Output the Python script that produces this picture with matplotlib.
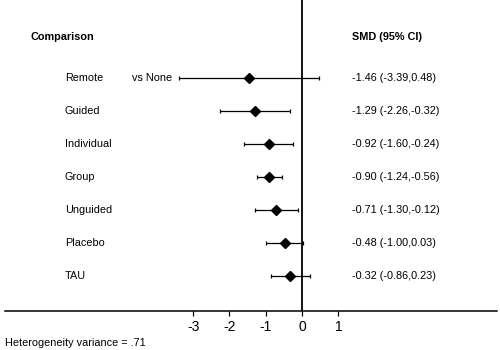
import numpy as np
import matplotlib
matplotlib.use('Agg')
import matplotlib.pyplot as plt

plt.rcParams['font.family'] = ['Liberation Sans', 'DejaVu Sans']

labels = ['Remote', 'Guided', 'Individual', 'Group', 'Unguided', 'Placebo', 'TAU']
smd = [-1.46, -1.29, -0.92, -0.90, -0.71, -0.48, -0.32]
lo = [-3.39, -2.26, -1.60, -1.24, -1.30, -1.00, -0.86]
hi = [0.48, -0.32, -0.24, -0.56, -0.12, 0.03, 0.23]
ci_txt = ['-1.46 (-3.39,0.48)', '-1.29 (-2.26,-0.32)', '-0.92 (-1.60,-0.24)',
          '-0.90 (-1.24,-0.56)', '-0.71 (-1.30,-0.12)', '-0.48 (-1.00,0.03)',
          '-0.32 (-0.86,0.23)']
ticks = [-3, -2, -1, 0, 1]

fig = plt.figure(figsize=(5, 3.5), dpi=100)
# axes: x from 5px to 497px, bottom at axis line (311px from top), top at figure top
ax = fig.add_axes([5 / 500, 39 / 350, 492 / 500, 311 / 350])
ax.set_xlim(-8.18, 5.37)
ax.set_ylim(-1.06, 8.36)

n = len(labels)
ys = np.arange(n)[::-1]  # Remote at top
smd = np.array(smd); lo = np.array(lo); hi = np.array(hi)
ax.errorbar(smd, ys, xerr=[smd - lo, hi - smd], fmt='D', color='black',
            ms=5, lw=0.9, capsize=1.6, capthick=0.9, zorder=3)
ax.axvline(0, color='black', lw=1.3, zorder=2)

fs = 7.8
for y, lab, t in zip(ys, labels, ci_txt):
    ax.text(-6.53, y, lab, ha='left', va='center', fontsize=fs)
    ax.text(1.38, y, t, ha='left', va='center', fontsize=fs)
ax.text(-4.68, ys[0], 'vs None', ha='left', va='center', fontsize=fs)

ax.text(-7.49, 7.24, 'Comparison', ha='left', va='center', fontsize=fs, fontweight='bold')
ax.text(1.38, 7.24, 'SMD (95% CI)', ha='left', va='center', fontsize=fs, fontweight='bold')

for s in ['top', 'right', 'left']:
    ax.spines[s].set_visible(False)
ax.spines['bottom'].set_linewidth(1.1)
ax.set_xticks(ticks)
ax.set_xticklabels([str(t) for t in ticks])
ax.tick_params(axis='x', length=3.5, width=0.9, labelsize=10, pad=3)
ax.set_yticks([])

fig.text(5 / 500, 1 - 343 / 350, 'Heterogeneity variance = .71', ha='left', va='center',
         fontsize=fs)

fig.savefig('out.png', dpi=100)
